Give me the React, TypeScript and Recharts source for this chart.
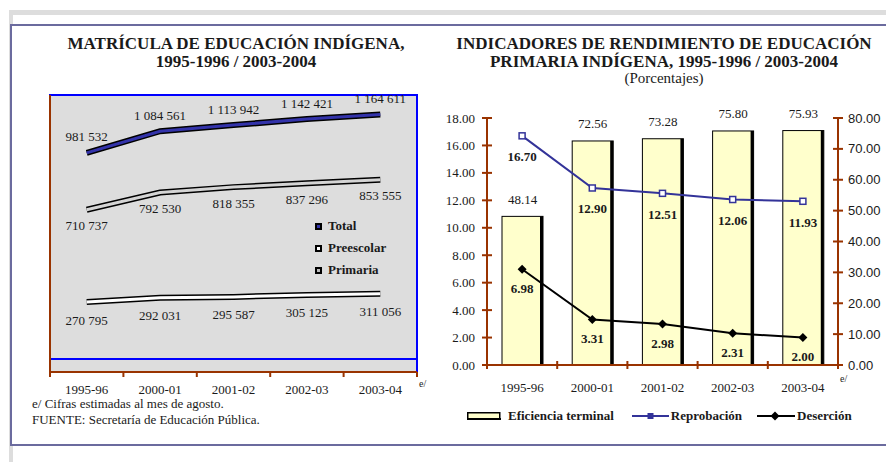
import {
  ComposedChart,
  Line,
  Bar,
  XAxis,
  YAxis,
  CartesianGrid,
  ReferenceArea,
  ReferenceLine,
  LabelList,
} from 'recharts';

const CICLOS = ['1995-96', '2000-01', '2001-02', '2002-03', '2003-04'];

// Matrícula (alumnos)
const TOTAL = [981532, 1084561, 1113942, 1142421, 1164611];
const PREESCOLAR = [710737, 792530, 818355, 837296, 853555];
const PRIMARIA = [270795, 292031, 295587, 305125, 311056];

// Indicadores (porcentajes)
const EFICIENCIA = [48.14, 72.56, 73.28, 75.8, 75.93];
const REPROBACION = [16.7, 12.9, 12.51, 12.06, 11.93];
const DESERCION = [6.98, 3.31, 2.98, 2.31, 2.0];

const LEFT_TICKS = [0, 2, 4, 6, 8, 10, 12, 14, 16, 18];
const RIGHT_TICKS = [0, 10, 20, 30, 40, 50, 60, 70, 80];

const MATRICULA_MIN = -62000;
const MATRICULA_MAX = 1257000;

const SERIF = '"Liberation Serif", "Times New Roman", serif';
const SANS = '"Liberation Sans", Arial, sans-serif';
const INK = '#1a1a1a';
const BROWN = '#993300';
const NAVY = '#333399';

const matricula = CICLOS.map((ciclo, i) => ({
  ciclo,
  total: TOTAL[i],
  preescolar: PREESCOLAR[i],
  primaria: PRIMARIA[i],
}));

const indicadores = CICLOS.map((ciclo, i) => ({
  ciclo,
  eficiencia: EFICIENCIA[i],
  reprobacion: REPROBACION[i],
  desercion: DESERCION[i],
}));

const miles = (v: number) => String(v).replace(/\B(?=(\d{3})+(?!\d))/g, ' ');

// category tick: label centred, tick marks on the band edges
function cicloTick(p: any, opts: { up: number; down: number; textDy: number; plotW: number }) {
  const n = p.visibleTicksCount || CICLOS.length;
  const half = (p.width || opts.plotW) / n / 2;
  const last = p.index === n - 1;
  return (
    <g>
      <line x1={p.x - half} x2={p.x - half} y1={p.y - opts.up} y2={p.y + opts.down} stroke={BROWN} strokeWidth={2} />
      {last && (
        <line x1={p.x + half} x2={p.x + half} y1={p.y - opts.up} y2={p.y + opts.down} stroke={BROWN} strokeWidth={2} />
      )}
      <text x={p.x} y={p.y + opts.textDy} textAnchor="middle" dominantBaseline="central" fontFamily={SERIF} fontSize={13} fill={INK}>
        {p.payload.value}
      </text>
    </g>
  );
}

function valueTick(p: any, side: 'left' | 'right') {
  const left = side === 'left';
  return (
    <g>
      <line x1={p.x - 5} x2={p.x + 5} y1={p.y} y2={p.y} stroke={BROWN} strokeWidth={2} />
      <text
        x={left ? p.x - 12 : p.x + 10}
        y={p.y}
        textAnchor={left ? 'end' : 'start'}
        dominantBaseline="central"
        fontFamily={left ? SERIF : SANS}
        fontSize={13}
        fill={INK}
      >
        {Number(p.payload.value).toFixed(2)}
      </text>
    </g>
  );
}

const etiqueta = (dy: number, fmt: (v: number) => string, bold = false) => (p: any) => {
  const x = p.x + (p.width ? p.width / 2 : 0);
  return (
    <text
      key={p.index}
      x={x}
      y={p.y + dy}
      textAnchor="middle"
      dominantBaseline="central"
      fontFamily={SERIF}
      fontSize={13}
      fontWeight={bold ? 700 : 400}
      fill={INK}
    >
      {fmt(Number(p.value))}
    </text>
  );
};

function BarraSombra(props: any) {
  const { x, y, width, height } = props;
  if (!height || height <= 0) return null;
  return (
    <g>
      <rect x={x} y={y} width={width} height={height} fill="#ffffcc" stroke="#000" strokeWidth={1} />
      <rect x={x + width - 3} y={y} width={3} height={height} fill="#000" />
    </g>
  );
}

const cuadro = (p: any) => (
  <rect key={p.index} x={p.cx - 3} y={p.cy - 3} width={6} height={6} fill="#fff" stroke={NAVY} strokeWidth={1.5} />
);

const rombo = (p: any) => (
  <path
    key={p.index}
    d={`M${p.cx},${p.cy - 4.5}L${p.cx + 4.5},${p.cy}L${p.cx},${p.cy + 4.5}L${p.cx - 4.5},${p.cy}Z`}
    fill="#000"
  />
);

function LegendBox({ color }: { color: string }) {
  return (
    <span
      style={{
        display: 'inline-block',
        width: 3,
        height: 3,
        border: '2px solid #000',
        background: color,
        marginRight: 6,
      }}
    />
  );
}

export default function App() {
  const txt = { fontFamily: SERIF, color: INK };
  return (
    <div style={{ position: 'absolute', left: 0, top: 0, width: 886, height: 462, background: '#fff', overflow: 'hidden' }}>
      {/* outer frame */}
      <div style={{ position: 'absolute', left: 9, top: 10, width: 877, height: 452, borderTop: '5px solid #dddddd', borderLeft: '4px solid #dddddd', boxSizing: 'border-box' }} />
      <div style={{ position: 'absolute', left: 10, top: 24, width: 890, height: 422, border: '2px solid #6b6b9e', boxSizing: 'border-box', background: '#fff' }} />

      {/* left chart titles */}
      <div style={{ ...txt, position: 'absolute', left: 16, top: 35, width: 440, textAlign: 'center', fontWeight: 700, fontSize: 17, lineHeight: '18px' }}>
        MATRÍCULA DE EDUCACIÓN INDÍGENA,
        <br />
        1995-1996 / 2003-2004
      </div>

      <div style={{ position: 'absolute', left: 0, top: 0 }}>
        <ComposedChart width={440} height={462} data={matricula} margin={{ top: 95, right: 23, left: 49, bottom: 60 }}>
          <CartesianGrid horizontal={false} vertical={false} fill="#dddddd" fillOpacity={1} />
          <ReferenceArea
            x1={CICLOS[0]}
            x2={CICLOS[CICLOS.length - 1]}
            y1={MATRICULA_MIN}
            y2={MATRICULA_MAX}
            fill="none"
            fillOpacity={0}
            stroke="#0000ff"
            strokeWidth={2}
          />
          <ReferenceLine y={0} stroke="#0000ff" strokeWidth={2} />
          <XAxis
            dataKey="ciclo"
            scale="band"
            interval={0}
            tickSize={0}
            tickMargin={0}
            axisLine={{ stroke: BROWN, strokeWidth: 2 }}
            tickLine={false}
            tick={(p: any) => cicloTick(p, { up: 0, down: 5, textDy: 17, plotW: 367 })}
          />
          <YAxis
            type="number"
            width={1}
            domain={[MATRICULA_MIN, MATRICULA_MAX]}
            allowDataOverflow
            tick={false}
            tickLine={false}
            axisLine={{ stroke: BROWN, strokeWidth: 2 }}
          />
          <Line dataKey="primaria" stroke="#000" strokeWidth={6} dot={false} isAnimationActive={false} legendType="none" />
          <Line dataKey="primaria" stroke="#ffffff" strokeWidth={3} dot={false} isAnimationActive={false} name="Primaria">
            <LabelList dataKey="primaria" content={etiqueta(18, miles)} />
          </Line>
          <Line dataKey="preescolar" stroke="#000" strokeWidth={6} dot={false} isAnimationActive={false} legendType="none" />
          <Line dataKey="preescolar" stroke="#d4d4d4" strokeWidth={3} dot={false} isAnimationActive={false} name="Preescolar">
            <LabelList dataKey="preescolar" content={etiqueta(16, miles)} />
          </Line>
          <Line dataKey="total" stroke="#000" strokeWidth={6} dot={false} isAnimationActive={false} legendType="none" />
          <Line dataKey="total" stroke="#3333aa" strokeWidth={3} dot={false} isAnimationActive={false} name="Total">
            <LabelList dataKey="total" content={etiqueta(-16, miles)} />
          </Line>
        </ComposedChart>
      </div>

      {/* left legend */}
      <div style={{ ...txt, position: 'absolute', left: 315, top: 215, fontWeight: 700, fontSize: 13, lineHeight: '22px' }}>
        <div><LegendBox color="#3333aa" />Total</div>
        <div><LegendBox color="#ffffff" />Preescolar</div>
        <div><LegendBox color="#bbbbbb" />Primaria</div>
      </div>
      <div style={{ ...txt, position: 'absolute', left: 419, top: 378, fontSize: 10 }}>e/</div>

      {/* footnotes */}
      <div style={{ ...txt, position: 'absolute', left: 32, top: 396, fontSize: 13, lineHeight: '16px' }}>
        e/ Cifras estimadas al mes de agosto.
        <br />
        FUENTE: Secretaría de Educación Pública.
      </div>

      {/* right chart titles */}
      <div style={{ ...txt, position: 'absolute', left: 444, top: 35, width: 440, textAlign: 'center', fontWeight: 700, fontSize: 17, lineHeight: '18px' }}>
        INDICADORES DE RENDIMIENTO DE EDUCACIÓN
        <br />
        PRIMARIA INDÍGENA, 1995-1996 / 2003-2004
      </div>
      <div style={{ ...txt, position: 'absolute', left: 444, top: 70, width: 440, textAlign: 'center', fontSize: 15, lineHeight: '16px' }}>
        (Porcentajes)
      </div>

      <div style={{ position: 'absolute', left: 440, top: 0 }}>
        <ComposedChart width={446} height={462} data={indicadores} margin={{ top: 118, right: 0, left: 0, bottom: 67 }}>
          <XAxis
            dataKey="ciclo"
            interval={0}
            tickSize={0}
            tickMargin={0}
            axisLine={{ stroke: BROWN, strokeWidth: 2 }}
            tickLine={false}
            tick={(p: any) => cicloTick(p, { up: 4, down: 4, textDy: 22, plotW: 351 })}
          />
          <YAxis
            yAxisId="left"
            type="number"
            width={47}
            domain={[0, 18]}
            ticks={LEFT_TICKS}
            interval={0}
            tickSize={0}
            tickMargin={0}
            tickLine={false}
            axisLine={{ stroke: BROWN, strokeWidth: 2 }}
            tick={(p: any) => valueTick(p, 'left')}
          />
          <YAxis
            yAxisId="right"
            orientation="right"
            type="number"
            width={48}
            domain={[0, 80]}
            ticks={RIGHT_TICKS}
            interval={0}
            tickSize={0}
            tickMargin={0}
            tickLine={false}
            axisLine={{ stroke: BROWN, strokeWidth: 2 }}
            tick={(p: any) => valueTick(p, 'right')}
          />
          <Bar yAxisId="right" dataKey="eficiencia" barSize={41} shape={<BarraSombra />} isAnimationActive={false}>
            <LabelList dataKey="eficiencia" content={etiqueta(-17, (v) => v.toFixed(2))} />
          </Bar>
          <Line yAxisId="left" dataKey="reprobacion" stroke={NAVY} strokeWidth={2} dot={cuadro} isAnimationActive={false}>
            <LabelList dataKey="reprobacion" content={etiqueta(21, (v) => v.toFixed(2), true)} />
          </Line>
          <Line yAxisId="left" dataKey="desercion" stroke="#000" strokeWidth={2} dot={rombo} isAnimationActive={false}>
            <LabelList dataKey="desercion" content={etiqueta(19, (v) => v.toFixed(2), true)} />
          </Line>
        </ComposedChart>
      </div>
      <div style={{ ...txt, position: 'absolute', left: 840, top: 373, fontSize: 10 }}>e/</div>

      {/* right legend */}
      <div style={{ ...txt, position: 'absolute', left: 467, top: 407, height: 18, display: 'flex', alignItems: 'center', fontWeight: 700, fontSize: 13 }}>
        <svg width={34} height={8} style={{ marginRight: 7 }}>
          <rect x={0.75} y={0.75} width={32} height={6} fill="#ffffcc" stroke="#000" strokeWidth={1.5} />
          <rect x={0} y={6} width={34} height={2} fill="#000" />
        </svg>
        <span>Eficiencia terminal</span>
        <svg width={37} height={10} style={{ marginLeft: 18, marginRight: 2 }}>
          <line x1={0} x2={37} y1={5} y2={5} stroke={NAVY} strokeWidth={2} />
          <rect x={15.5} y={2} width={6} height={6} fill={NAVY} />
        </svg>
        <span>Reprobación</span>
        <svg width={38} height={10} style={{ marginLeft: 15, marginRight: 2 }}>
          <line x1={0} x2={38} y1={5} y2={5} stroke="#000" strokeWidth={2} />
          <path d="M18,0.5L22.5,5L18,9.5L13.5,5Z" fill="#000" />
        </svg>
        <span>Deserción</span>
      </div>
    </div>
  );
}
